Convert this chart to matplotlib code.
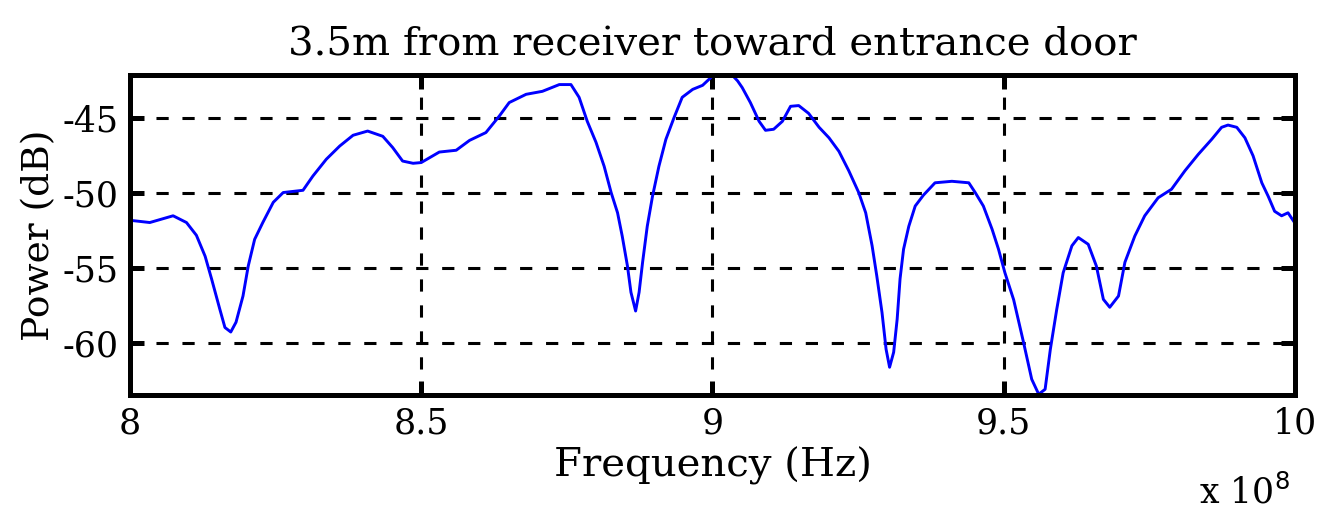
import matplotlib
matplotlib.use("Agg")
import matplotlib.pyplot as plt

plt.rcParams['font.family'] = ['DejaVu Serif']
plt.rcParams['axes.unicode_minus'] = False

# frequency in units of 1e8 Hz, power in dB
freq = [8.0, 8.034, 8.074, 8.097, 8.114, 8.129, 8.14, 8.154, 8.163, 8.173,
        8.182, 8.194, 8.203, 8.214, 8.228, 8.246, 8.263, 8.297, 8.314, 8.337,
        8.36, 8.383, 8.408, 8.434, 8.451, 8.468, 8.486, 8.5, 8.531, 8.56,
        8.583, 8.611, 8.634, 8.651, 8.68, 8.708, 8.737, 8.757, 8.771, 8.785,
        8.8, 8.814, 8.826, 8.837, 8.845, 8.854, 8.86, 8.868, 8.874, 8.88,
        8.888, 8.897, 8.908, 8.92, 8.934, 8.948, 8.966, 8.983, 9.0, 9.034,
        9.043, 9.051, 9.065, 9.08, 9.091, 9.105, 9.12, 9.134, 9.148, 9.165,
        9.183, 9.2, 9.217, 9.234, 9.251, 9.263, 9.274, 9.282, 9.291, 9.298,
        9.304, 9.311, 9.317, 9.322, 9.328, 9.337, 9.348, 9.362, 9.382, 9.411,
        9.44, 9.451, 9.465, 9.48, 9.491, 9.502, 9.517, 9.534, 9.548, 9.56,
        9.571, 9.58, 9.591, 9.602, 9.617, 9.628, 9.645, 9.659, 9.671, 9.682,
        9.697, 9.708, 9.725, 9.742, 9.765, 9.788, 9.811, 9.834, 9.857, 9.874,
        9.885, 9.9, 9.914, 9.928, 9.943, 9.954, 9.965, 9.977, 9.988, 10.0]
power = [-51.8, -51.95, -51.5, -51.95, -52.8, -54.2, -55.7, -57.7, -58.95, -59.25,
         -58.6, -56.85, -54.85, -53.07, -51.95, -50.6, -49.95, -49.8, -48.85, -47.73,
         -46.85, -46.13, -45.85, -46.2, -46.95, -47.85, -48.0, -47.95, -47.25, -47.13,
         -46.47, -45.95, -44.85, -43.95, -43.4, -43.2, -42.75, -42.75, -43.6, -45.2,
         -46.6, -48.2, -49.95, -51.3, -52.85, -54.85, -56.6, -57.85, -56.6, -54.6,
         -52.2, -50.2, -48.2, -46.4, -44.95, -43.6, -43.07, -42.8, -42.18, -42.13,
         -42.5, -42.95, -43.95, -45.2, -45.8, -45.73, -45.2, -44.2, -44.15, -44.67,
         -45.6, -46.3, -47.2, -48.5, -49.95, -51.3, -53.5, -55.5, -57.95, -60.4,
         -61.6, -60.6, -58.4, -55.7, -53.73, -52.2, -50.85, -50.13, -49.3, -49.2,
         -49.3, -49.95, -50.85, -52.4, -53.73, -55.3, -57.1, -59.95, -62.4, -63.4,
         -63.07, -60.4, -57.73, -55.3, -53.5, -52.95, -53.4, -54.85, -57.07, -57.6,
         -56.85, -54.6, -52.85, -51.5, -50.3, -49.73, -48.5, -47.4, -46.4, -45.6,
         -45.45, -45.6, -46.3, -47.5, -49.3, -50.2, -51.2, -51.5, -51.3, -52.0]

xticks = [8, 8.5, 9, 9.5, 10]
xticklabels = ['8', '8.5', '9', '9.5', '10']
yticks = [-60, -55, -50, -45]

fig = plt.figure(figsize=(13.17, 5.09), dpi=100)
ax = fig.add_axes([0.0987, 0.224, 0.8846, 0.629])

ax.plot(freq, power, color='#0000ff', linewidth=2.1)
ax.set_xlim(8, 10)
ax.set_ylim(-63.45, -42.1)
ax.set_xticks(xticks)
ax.set_xticklabels(xticklabels)
ax.set_yticks(yticks)
ax.grid(True, color='black', linestyle=(0, (4, 4.5)), linewidth=2.2)

for s in ax.spines.values():
    s.set_linewidth(3.6)
ax.tick_params(direction='in', length=10, width=3.6, top=True, right=True,
               labelsize=25)
ax.tick_params(axis='x', pad=8)
ax.tick_params(axis='y', pad=8)

ax.set_title('3.5m from receiver toward entrance door', fontsize=29, pad=14)
ax.set_xlabel('Frequency (Hz)', fontsize=29, labelpad=5)
ax.set_ylabel('Power (dB)', fontsize=27, labelpad=4)
fig.text(1290 / 1317, 1 - 504 / 509, r'x 10$^8$', ha='right', va='baseline',
         fontsize=25)

fig.savefig('out.png', dpi=100)
